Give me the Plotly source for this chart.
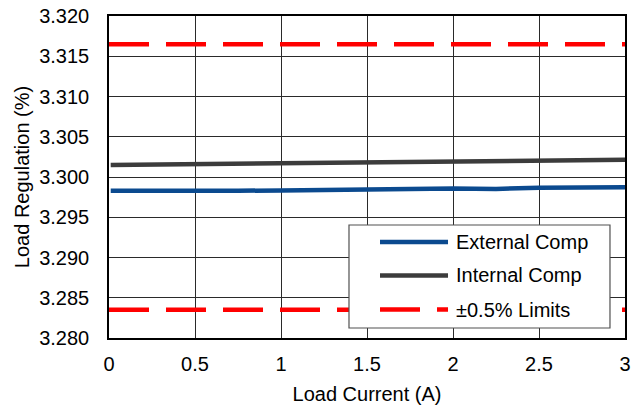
import plotly.graph_objects as go

# Data
load_current = [0.01, 0.25, 0.5, 0.75, 1.0, 1.25, 1.5, 1.75, 2.0, 2.25, 2.5, 2.75, 3.0]
external_comp = [3.29830, 3.29826, 3.29828, 3.29830, 3.29832, 3.29835, 3.29845,
                 3.29850, 3.29858, 3.29852, 3.29865, 3.29870, 3.29873]
internal_comp = [3.30150, 3.30155, 3.30160, 3.30165, 3.30170, 3.30176, 3.30182,
                 3.30188, 3.30193, 3.30198, 3.30203, 3.30208, 3.30213]
limit_x = [0.0, 3.0]
upper_limit = [3.3165, 3.3165]
lower_limit = [3.2835, 3.2835]

series_names = ["External Comp", "Internal Comp", "±0.5% Limits"]
x_ticks = [0, 0.5, 1, 1.5, 2, 2.5, 3]

FONT = "Liberation Sans, Arial, sans-serif"
FS = 20
BLUE = "#0b4a8f"
GRAY = "#3c3c3c"
RED = "#ff0000"
DASH = "40px,17px"

fig = go.Figure()
fig.add_trace(go.Scatter(x=load_current, y=external_comp, mode="lines",
                         name=series_names[0], line=dict(color=BLUE, width=4.5)))
fig.add_trace(go.Scatter(x=load_current, y=internal_comp, mode="lines",
                         name=series_names[1], line=dict(color=GRAY, width=4.5)))
fig.add_trace(go.Scatter(x=limit_x, y=upper_limit, mode="lines",
                         name=series_names[2], line=dict(color=RED, width=4.5, dash=DASH)))
fig.add_trace(go.Scatter(x=limit_x, y=lower_limit, mode="lines",
                         name=series_names[2], showlegend=False,
                         line=dict(color=RED, width=4.5, dash=DASH)))

# Manual legend (to match long line samples of the reference)
L0, L1 = 0.4651, 0.9709
B0, B1 = 0.0311, 0.3509
fig.add_shape(type="rect", xref="paper", yref="paper", x0=L0, x1=L1, y0=B0, y1=B1,
              line=dict(color="#505050", width=1.2), fillcolor="white", layer="above")
rows_y = [0.2981, 0.1941, 0.0885]
colors = [BLUE, GRAY, RED]
dashes = ["solid", "solid", DASH]
for name, yy, c, d in zip(series_names, rows_y, colors, dashes):
    fig.add_shape(type="line", xref="paper", yref="paper", x0=0.5252, x1=0.6570,
                  y0=yy, y1=yy, line=dict(color=c, width=4.5, dash=d), layer="above")
    fig.add_annotation(xref="paper", yref="paper", x=0.6686, y=yy, text=name,
                       showarrow=False, xanchor="left", yanchor="middle",
                       font=dict(family=FONT, size=FS, color="black"))

fig.update_layout(
    width=642, height=410,
    margin=dict(l=109, r=17, t=16, b=72, autoexpand=False),
    paper_bgcolor="white", plot_bgcolor="white",
    showlegend=False,
    font=dict(family=FONT, size=FS, color="black"),
)
fig.update_xaxes(range=[0, 3], tickvals=x_ticks, ticktext=[str(t) for t in x_ticks],
                 showgrid=True, gridcolor="#2a2a2a", gridwidth=1,
                 showline=True, linecolor="black", linewidth=1.5, mirror=True,
                 ticks="outside", ticklen=7, tickcolor="rgba(0,0,0,0)",
                 ticklabeloverflow="allow", zeroline=False,
                 title=dict(text="Load Current (A)", standoff=13,
                            font=dict(family=FONT, size=FS)))
fig.update_yaxes(range=[3.280, 3.320], dtick=0.005, tick0=3.28, tickformat=".3f",
                 showgrid=True, gridcolor="#2a2a2a", gridwidth=1,
                 showline=True, linecolor="black", linewidth=1.5, mirror=True,
                 ticks="outside", ticklen=14, tickcolor="rgba(0,0,0,0)",
                 ticklabeloverflow="allow", zeroline=False,
                 title=dict(text="Load Regulation (%)", standoff=4,
                            font=dict(family=FONT, size=FS)))

# remove the browser's default 8px body margin so the figure fills the window
fig.write_html("out.html",
               config={"displayModeBar": False},
               post_script="document.body.style.margin='0';"
                           "document.body.style.overflow='hidden';")
